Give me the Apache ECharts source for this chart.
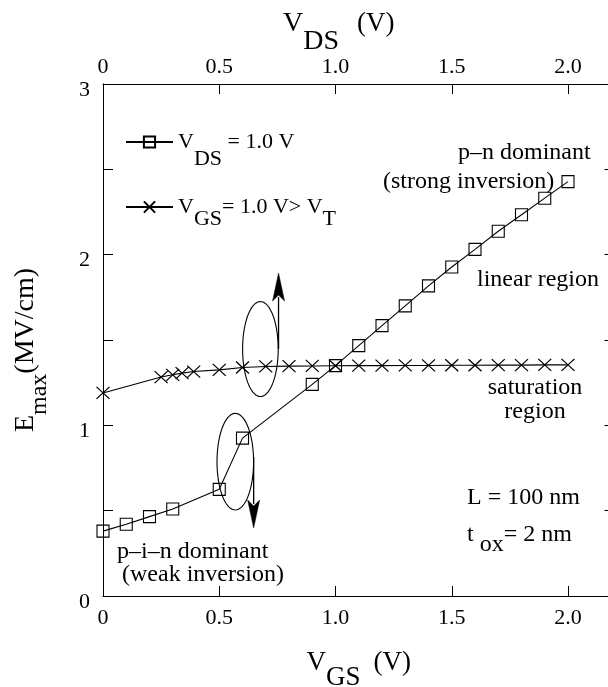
<!DOCTYPE html>
<html>
<head>
<meta charset="utf-8">
<script src="https://cdn.jsdelivr.net/npm/echarts@6/dist/echarts.min.js"></script>
<style>
  html, body { margin: 0; padding: 0; background: #fff; }
  #chart { width: 608px; height: 687px; }
</style>
</head>
<body>
<div id="chart"></div>
<script>
// E_max versus V_GS at V_DS = 1.0 V (bottom axis)
const vgsValues = [0, 0.1, 0.2, 0.3, 0.5, 0.6, 0.9, 1.0, 1.1, 1.2, 1.3, 1.4, 1.5, 1.6, 1.7, 1.8, 1.9, 2.0];
const emaxAtVds1 = [0.38, 0.42, 0.465, 0.51, 0.625, 0.925, 1.24, 1.35, 1.467, 1.584, 1.70, 1.817, 1.928, 2.031, 2.137, 2.234, 2.331, 2.428];

// E_max versus V_DS at V_GS = 1.0 V (top axis)
const vdsValues = [0, 0.25, 0.3, 0.34, 0.39, 0.5, 0.6, 0.7, 0.8, 0.9, 1.0, 1.1, 1.2, 1.3, 1.4, 1.5, 1.6, 1.7, 1.8, 1.9, 2.0];
const emaxAtVgs1 = [1.19, 1.283, 1.296, 1.306, 1.315, 1.325, 1.339, 1.345, 1.347, 1.348, 1.349, 1.35, 1.35, 1.351, 1.351, 1.352, 1.352, 1.353, 1.353, 1.354, 1.354];

// tick labels
const xTickLabels = ['0', '0.5', '1.0', '1.5', '2.0'];
const yTickLabels = ['0', '1', '2', '3'];

// series names and legend texts
const seriesNames = ['VDS = 1.0 V', 'VGS = 1.0 V > VT'];
const legendTexts = {
  'VDS = 1.0 V': '{m|V}{s1|DS}{m| = 1.0 V}',
  'VGS = 1.0 V > VT': '{m|V}{s2|GS}{m|= 1.0 V> V}{s2|T}'
};

const FONT = '"Liberation Serif", "DejaVu Serif", "Times New Roman", serif';

const chart = echarts.init(document.getElementById('chart'), null, { renderer: 'canvas' });

function xLabel(v) {
  const i = Math.round(v / 0.5);
  return (Math.abs(v - i * 0.5) < 1e-6 && i < xTickLabels.length) ? xTickLabels[i] : '';
}
function yLabel(v) {
  const i = Math.round(v);
  return (Math.abs(v - i) < 1e-6 && i < yTickLabels.length) ? yTickLabels[i] : '';
}

const axisCommon = {
  type: 'value',
  interval: 0.5,
  axisLine: { show: true, onZero: false, lineStyle: { color: '#000', width: 1 } },
  axisTick: { show: true, inside: true, length: 10, lineStyle: { color: '#000', width: 1 } },
  splitLine: { show: false }
};

const option = {
  animation: false,
  textStyle: { fontFamily: FONT, color: '#000' },
  grid: { left: 103, top: 84, right: -6.5, bottom: 91, containLabel: false, outerBoundsMode: 'none' },
  xAxis: [
    Object.assign({}, axisCommon, {
      position: 'bottom', min: 0, max: 2.2,
      axisLabel: { formatter: xLabel, margin: 11, fontSize: 22, fontFamily: FONT, color: '#000', showMaxLabel: false },
      name: '{m|V}{s|GS}{p|(V)}',
      nameLocation: 'middle', nameGap: 53, nameMoveOverlap: false,
      nameTextStyle: {
        rich: {
          m: { fontSize: 27, fontFamily: FONT, color: '#000', lineHeight: 27, verticalAlign: 'middle' },
          s: { fontSize: 27, fontFamily: FONT, color: '#000', lineHeight: 27, padding: [30, 0, 0, 0] },
          p: { fontSize: 27, fontFamily: FONT, color: '#000', lineHeight: 27, verticalAlign: 'middle', padding: [0, 0, 0, 13] }
        }
      }
    }),
    Object.assign({}, axisCommon, {
      position: 'top', min: 0, max: 2.2,
      axisLabel: { formatter: xLabel, margin: 6, fontSize: 22, fontFamily: FONT, color: '#000', showMaxLabel: false },
      name: '{m|V}{s|DS}{p|(V)}',
      nameLocation: 'middle', nameGap: 46, nameMoveOverlap: false,
      nameTextStyle: {
        padding: [0, 40, 0, 0],
        rich: {
          m: { fontSize: 28, fontFamily: FONT, color: '#000', lineHeight: 28, verticalAlign: 'middle' },
          s: { fontSize: 28, fontFamily: FONT, color: '#000', lineHeight: 28, padding: [36, 0, 0, 0] },
          p: { fontSize: 27, fontFamily: FONT, color: '#000', lineHeight: 28, verticalAlign: 'middle', padding: [0, 0, 0, 18] }
        }
      }
    })
  ],
  yAxis: [
    Object.assign({}, axisCommon, {
      position: 'left', min: 0, max: 3,
      axisLabel: { formatter: yLabel, margin: 13, fontSize: 22, fontFamily: FONT, color: '#000', verticalAlign: 'top', lineHeight: 12 },
      name: '{m|E}{s|max}{m|(MV/cm)}',
      nameLocation: 'middle', nameGap: 63, nameRotate: 90, nameMoveOverlap: false,
      nameTextStyle: {
        padding: [0, 20, 0, 0],
        rich: {
          m: { fontSize: 28, fontFamily: FONT, color: '#000', lineHeight: 28, verticalAlign: 'middle' },
          s: { fontSize: 24, fontFamily: FONT, color: '#000', lineHeight: 24, padding: [28, 0, 0, 0] }
        }
      }
    }),
    Object.assign({}, axisCommon, {
      position: 'right', min: 0, max: 3,
      axisLabel: { show: false }
    })
  ],
  legend: {
    orient: 'vertical', left: 125, top: 114, padding: 0,
    itemWidth: 47, itemHeight: 14, itemGap: 14,
    selectedMode: false,
    data: seriesNames,
    formatter: function (name) { return legendTexts[name]; },
    textStyle: {
      fontFamily: FONT, fontSize: 22, color: '#000',
      rich: {
        m: { fontSize: 22, fontFamily: FONT, color: '#000', lineHeight: 22, verticalAlign: 'middle' },
        s1: { fontSize: 22, fontFamily: FONT, color: '#000', lineHeight: 22, padding: [34, 0, 0, 0] },
        s2: { fontSize: 22, fontFamily: FONT, color: '#000', lineHeight: 22, padding: [24, 0, 0, 0] }
      }
    }
  },
  series: [
    {
      name: seriesNames[0], type: 'line', xAxisIndex: 0, yAxisIndex: 0,
      data: vgsValues.map(function (x, i) { return [x, emaxAtVds1[i]]; }),
      symbol: 'rect', symbolSize: 12, showAllSymbol: true, clip: false,
      color: '#000',
      lineStyle: { color: '#000', width: 1.1 },
      itemStyle: { color: 'rgba(0,0,0,0)', borderColor: '#000', borderWidth: 1.1 },
      z: 3
    },
    {
      name: seriesNames[1], type: 'line', xAxisIndex: 1, yAxisIndex: 0,
      data: vdsValues.map(function (x, i) { return [x, emaxAtVgs1[i]]; }),
      symbol: 'path://M0,0L13,12M13,0L0,12', symbolSize: [13, 12], showAllSymbol: true, clip: false,
      color: '#000',
      lineStyle: { color: '#000', width: 1.1 },
      itemStyle: { color: 'rgba(0,0,0,0)', borderColor: '#000', borderWidth: 1.2 },
      z: 4
    }
  ]
};

chart.setOption(option);

// Ovals with direction arrows, anchored in data space of the bottom axis
const ovals = [
  { cx: 0.677, cy: 1.447, rx: 17.8, ry: 47.5, arrowX: 0.755, arrowFrom: 1.447, arrowTo: 1.892 },
  { cx: 0.569, cy: 0.787, rx: 18.3, ry: 48.3, arrowX: 0.648, arrowFrom: 0.814, arrowTo: 0.398 }
];

const toPx = function (x, y) { return chart.convertToPixel({ xAxisIndex: 0, yAxisIndex: 0 }, [x, y]); };

const graphics = [];
ovals.forEach(function (o) {
  const c = toPx(o.cx, o.cy);
  const pts = [];
  for (let k = 0; k < 72; k++) {
    const a = (k / 72) * Math.PI * 2;
    pts.push([c[0] + o.rx * Math.cos(a), c[1] + o.ry * Math.sin(a)]);
  }
  graphics.push({ type: 'polygon', shape: { points: pts }, style: { fill: 'none', stroke: '#000', lineWidth: 1.1 }, z: 10 });

  const p0 = toPx(o.arrowX, o.arrowFrom);
  const p1 = toPx(o.arrowX, o.arrowTo);
  const dir = p1[1] < p0[1] ? -1 : 1;
  const headLen = 28, halfW = 6;
  const baseY = p1[1] - dir * headLen;
  graphics.push({ type: 'line', shape: { x1: p0[0], y1: p0[1], x2: p1[0], y2: baseY + dir * 4 }, style: { stroke: '#000', lineWidth: 1.3 }, z: 10 });
  graphics.push({
    type: 'polygon',
    shape: { points: [[p1[0], p1[1]], [p1[0] - halfW, baseY], [p1[0], baseY + dir * 6], [p1[0] + halfW, baseY]] },
    style: { fill: '#000', stroke: '#000', lineWidth: 0.5 }, z: 10
  });
});

// Plain annotation text
function note(text, x, y, size, align) {
  return {
    type: 'text', z: 20,
    style: {
      text: text, x: x, y: y, fill: '#000',
      font: size + 'px ' + FONT,
      align: align || 'left', verticalAlign: 'middle',
      textAlign: align || 'left', textVerticalAlign: 'middle'
    }
  };
}
graphics.push(note('p\u2013n dominant', 458, 153, 24));
graphics.push(note('(strong inversion)', 383, 182, 24));
graphics.push(note('linear region', 477, 280, 24));
graphics.push(note('saturation', 535, 388, 24, 'center'));
graphics.push(note('region', 535, 412, 24, 'center'));
graphics.push(note('L = 100 nm', 467, 498, 24));
graphics.push(note('p\u2013i\u2013n dominant', 117, 552, 24));
graphics.push(note('(weak inversion)', 122, 575, 24));
graphics.push({
  type: 'text', z: 20,
  style: {
    text: '{m|t }{s|ox}{m|= 2 nm}', x: 467, y: 535, fill: '#000',
    font: '24px ' + FONT,
    align: 'left', verticalAlign: 'middle', textAlign: 'left', textVerticalAlign: 'middle',
    rich: {
      m: { fontSize: 24, fontFamily: FONT, fill: '#000', lineHeight: 24, verticalAlign: 'middle' },
      s: { fontSize: 24, fontFamily: FONT, fill: '#000', lineHeight: 24, padding: [20, 0, 0, 0] }
    }
  }
});

chart.setOption({ graphic: { elements: graphics } });
</script>
</body>
</html>
